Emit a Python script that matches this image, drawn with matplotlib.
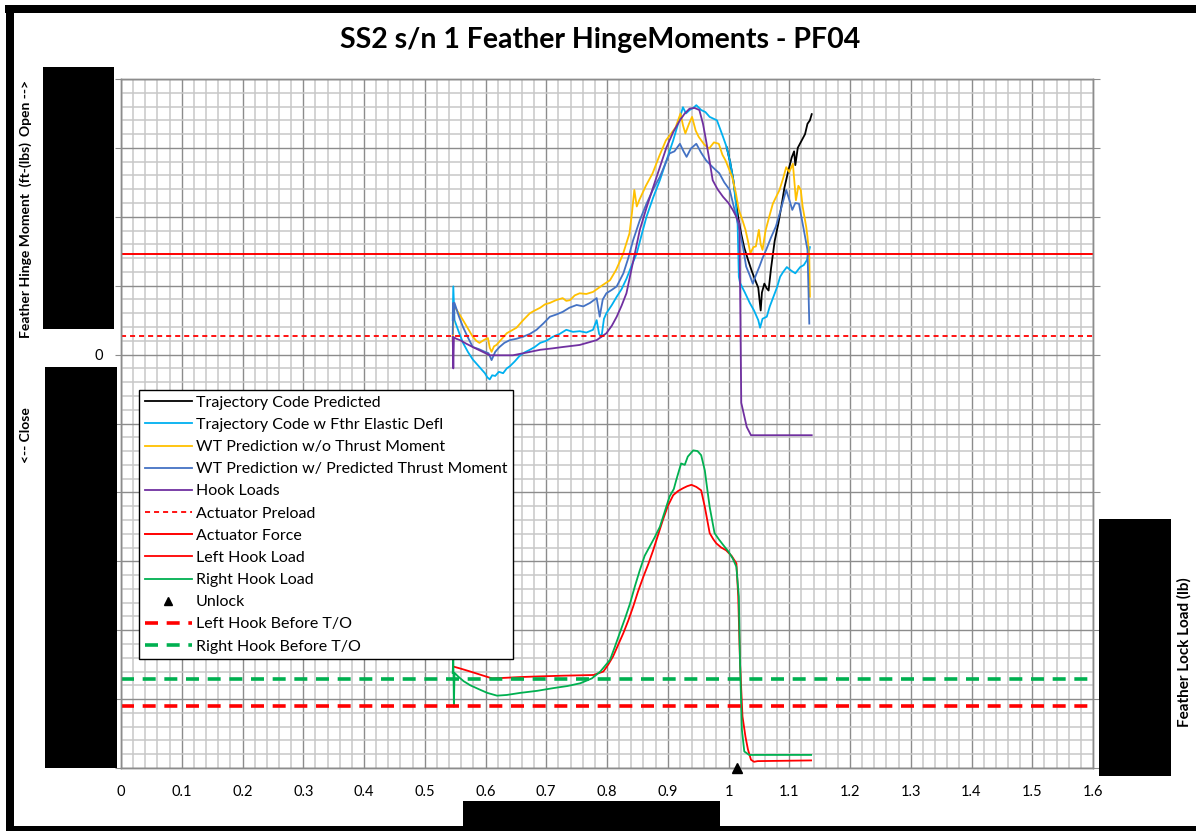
import matplotlib
matplotlib.use('Agg')
import matplotlib.pyplot as plt
from matplotlib.patches import Rectangle
from matplotlib.lines import Line2D
from matplotlib.ticker import MultipleLocator

# ---------------- data ----------------
title = "SS2 s/n 1 Feather HingeMoments - PF04"

traj_x = [0.997, 1.003, 1.008, 1.012, 1.016, 1.021, 1.026, 1.032, 1.038, 1.044, 1.049, 1.051, 1.053,
          1.055, 1.059, 1.063, 1.066, 1.070, 1.076, 1.082, 1.088, 1.092, 1.098, 1.104, 1.108, 1.110,
          1.114, 1.120, 1.126, 1.130, 1.134, 1.137]
traj_y = [3010, 2780, 2530, 2250, 1990, 1750, 1550, 1380, 1220, 1080, 970, 800, 640,
          900, 1030, 960, 930, 1250, 1650, 1900, 2200, 2420, 2650, 2860, 2950, 2750,
          3000, 3100, 3200, 3350, 3400, 3490]

elast_x = [0.546, 0.547, 0.549, 0.556, 0.563, 0.571, 0.579, 0.590, 0.599, 0.603, 0.607, 0.611, 0.616,
           0.622, 0.629, 0.635, 0.640, 0.648, 0.656, 0.664, 0.673, 0.681, 0.690, 0.700, 0.711, 0.722,
           0.733, 0.744, 0.755, 0.766, 0.777, 0.783, 0.787, 0.791, 0.795, 0.799, 0.808, 0.816, 0.824,
           0.832, 0.840, 0.849, 0.857, 0.865, 0.876, 0.887, 0.898, 0.909, 0.917, 0.925, 0.930, 0.936,
           0.942, 0.947, 0.955, 0.962, 0.969, 0.981, 0.991, 0.997, 1.003, 1.008, 1.012, 1.015, 1.017,
           1.019, 1.027, 1.035, 1.042, 1.049, 1.052, 1.056, 1.063, 1.068, 1.074, 1.080, 1.085, 1.090,
           1.096, 1.103, 1.110, 1.118, 1.124, 1.129, 1.134]
elast_y = [500, 990, 500, 330, 170, 40, -70, -180, -270, -330, -360, -300, -310,
           -250, -270, -200, -170, -100, -20, 30, 70, 110, 170, 200, 260, 300,
           360, 330, 340, 320, 360, 500, 300, 260, 520, 600, 720, 840, 950,
           1100, 1280, 1470, 1740, 2000, 2280, 2530, 2820, 3110, 3350, 3590, 3500, 3550,
           3580, 3620, 3550, 3520, 3450, 3400, 3160, 3010, 2780, 2530, 2200, 1900, 1130,
           1040, 900, 750, 640, 500, 390, 520, 550, 700, 840, 980, 1130, 1200,
           1270, 1220, 1180, 1270, 1300, 1370, 1560]

wt_x = [0.546, 0.548, 0.549, 0.556, 0.563, 0.571, 0.579, 0.585, 0.590, 0.597, 0.604, 0.607, 0.610,
        0.614, 0.618, 0.626, 0.635, 0.643, 0.651, 0.662, 0.673, 0.681, 0.690, 0.698, 0.706, 0.716,
        0.727, 0.733, 0.739, 0.747, 0.755, 0.766, 0.777, 0.785, 0.793, 0.805, 0.815, 0.826, 0.837,
        0.841, 0.845, 0.849, 0.853, 0.864, 0.875, 0.886, 0.897, 0.905, 0.913, 0.921, 0.925, 0.929,
        0.935, 0.940, 0.946, 0.951, 0.960, 0.968, 0.976, 0.984, 0.990, 0.995, 1.006, 1.012, 1.017,
        1.023, 1.028, 1.032, 1.036, 1.041, 1.045, 1.050, 1.053, 1.056, 1.061, 1.067, 1.073, 1.079,
        1.084, 1.090, 1.095, 1.100, 1.106, 1.111, 1.115, 1.119, 1.122, 1.125, 1.128, 1.130, 1.133, 1.134]
wt_y = [200, 700, 700, 600, 500, 380, 260, 200, 170, 210, 240, 100, 40,
        120, 140, 220, 310, 350, 390, 500, 600, 640, 680, 730, 750, 790,
        820, 780, 790, 860, 890, 880, 910, 960, 1010, 1080, 1230, 1450, 1760,
        2050, 2390, 2150, 2240, 2450, 2630, 2880, 3110, 3200, 3300, 3500, 3330, 3210,
        3350, 3450, 3250, 3160, 3050, 2990, 3080, 3060, 2900, 2820, 2580, 2350, 2100,
        1950, 1810, 1650, 1470, 1560, 1570, 1810, 1600, 1520, 1800, 2000, 2190, 2300,
        2390, 2560, 2720, 2650, 2770, 2240, 2450, 2390, 2150, 2000, 1850, 1710, 1420, 840]

wtt_x = [0.546, 0.547, 0.548, 0.549, 0.556, 0.563, 0.571, 0.579, 0.589, 0.599, 0.605, 0.610, 0.616,
         0.623, 0.631, 0.640, 0.651, 0.662, 0.673, 0.684, 0.695, 0.706, 0.716, 0.727, 0.738, 0.750,
         0.761, 0.772, 0.783, 0.788, 0.793, 0.799, 0.808, 0.816, 0.827, 0.835, 0.843, 0.854, 0.865,
         0.876, 0.887, 0.895, 0.903, 0.911, 0.920, 0.926, 0.931, 0.938, 0.947, 0.955, 0.963, 0.974,
         0.985, 0.993, 1.002, 1.010, 1.018, 1.024, 1.029, 1.035, 1.040, 1.045, 1.051, 1.056, 1.062,
         1.070, 1.078, 1.086, 1.095, 1.100, 1.105, 1.110, 1.116, 1.121, 1.125, 1.130, 1.133]
wtt_y = [300, 750, 500, 750, 560, 400, 250, 110, 80, 40, 20, -80, 40,
         110, 170, 210, 230, 260, 300, 360, 450, 550, 580, 620, 680, 720,
         700, 750, 820, 550, 800, 890, 940, 990, 1180, 1400, 1660, 1950, 2190,
         2400, 2580, 2750, 2920, 2950, 3060, 2950, 2870, 2990, 3060, 2930, 2820, 2720,
         2630, 2500, 2390, 2100, 1810, 1550, 1280, 1150, 1030, 1150, 1280, 1400, 1520,
         1700, 1860, 2100, 2390, 2250, 2100, 2200, 2190, 1950, 1760, 1520, 450]

hook_x = [0.546, 0.547, 0.548, 0.552, 0.558, 0.568, 0.579, 0.593, 0.607, 0.625, 0.645, 0.668, 0.690,
          0.710, 0.727, 0.755, 0.783, 0.799, 0.808, 0.816, 0.824, 0.832, 0.843, 0.854, 0.865, 0.876,
          0.887, 0.898, 0.909, 0.920, 0.928, 0.936, 0.944, 0.952, 0.958, 0.963, 0.969, 0.974, 0.982,
          0.991, 1.000, 1.007, 1.013, 1.018, 1.021, 1.030, 1.037, 1.137]
hook_y = [260, -200, 250, 230, 210, 160, 110, 50, -10, -10, -10, 30, 70,
          90, 110, 140, 210, 310, 420, 550, 710, 890, 1350, 1810, 2130, 2430,
          2720, 3010, 3230, 3400, 3500, 3570, 3580, 3550, 3350, 3110, 2800, 2530, 2400,
          2290, 2200, 2100, 2000, 1900, -700, -1050, -1170, -1170]

actuator_preload = 270    # ft-lbs
actuator_force = 1460     # ft-lbs

# Feather lock loads (right axis, lb)
left_x = [0.548, 0.560, 0.575, 0.593, 0.611, 0.635, 0.657, 0.690, 0.728, 0.755, 0.778, 0.794, 0.802,
          0.810, 0.818, 0.827, 0.835, 0.843, 0.851, 0.860, 0.868, 0.876, 0.884, 0.892, 0.900, 0.909,
          0.917, 0.925, 0.932, 0.939, 0.947, 0.955, 0.961, 0.965, 0.969, 0.975, 0.980, 0.988, 0.996,
          1.005, 1.013, 1.016, 1.019, 1.023, 1.028, 1.032, 1.037, 1.042, 1.048, 1.136]
left_y = [1470, 1440, 1400, 1350, 1300, 1310, 1320, 1330, 1340, 1345, 1350, 1400, 1500,
          1620, 1780, 1960, 2140, 2340, 2560, 2780, 2960, 3160, 3380, 3600, 3800, 3960,
          4020, 4060, 4090, 4110, 4080, 4030, 3790, 3600, 3410, 3320, 3260, 3200, 3160,
          3080, 2970, 2490, 1520, 750, 450, 270, 120, 90, 100, 110]

right_x = [0.546, 0.547, 0.548, 0.549, 0.556, 0.564, 0.575, 0.590, 0.603, 0.619, 0.635, 0.657, 0.685,
           0.712, 0.735, 0.756, 0.775, 0.789, 0.805, 0.813, 0.821, 0.830, 0.838, 0.846, 0.854, 0.862,
           0.870, 0.878, 0.887, 0.895, 0.903, 0.910, 0.914, 0.918, 0.922, 0.928, 0.933, 0.942, 0.949,
           0.955, 0.961, 0.965, 0.969, 0.977, 0.984, 0.991, 1.000, 1.007, 1.013, 1.017, 1.019, 1.022,
           1.026, 1.034, 1.136]
right_y = [1380, 1620, 890, 1380, 1320, 1260, 1200, 1140, 1090, 1050, 1060, 1090, 1120,
           1160, 1190, 1230, 1300, 1400, 1570, 1760, 1960, 2180, 2390, 2640, 2870, 3080,
           3210, 3340, 3500, 3720, 3940, 4050, 4180, 4300, 4420, 4400, 4520, 4610, 4600,
           4540, 4320, 4050, 3790, 3410, 3320, 3240, 3140, 3040, 2920, 2490, 1520, 560,
           240, 190, 190]

left_hook_before_to = 900    # lb
right_hook_before_to = 1290  # lb
unlock_x = [1.014]
unlock_y = [0]

xticks = [0, 0.1, 0.2, 0.3, 0.4, 0.5, 0.6, 0.7, 0.8, 0.9, 1, 1.1, 1.2, 1.3, 1.4, 1.5, 1.6]
xtick_labels = ["0", "0.1", "0.2", "0.3", "0.4", "0.5", "0.6", "0.7", "0.8", "0.9", "1",
                "1.1", "1.2", "1.3", "1.4", "1.5", "1.6"]

# ---------------- style ----------------
C_BLACK = "#000000"
C_CYAN = "#00B0F0"
C_YELLOW = "#FFC000"
C_BLUE = "#4472C4"
C_PURPLE = "#7030A0"
C_RED = "#FF0000"
C_GREEN = "#00B050"

plt.rcParams['font.family'] = ['Lato', 'DejaVu Sans']

W, H = 1196, 831
fig = plt.figure(figsize=(W / 100, H / 100), dpi=100)


def fx(px):
    return px / W


def fy(py):
    return 1 - py / H


ax = fig.add_axes([fx(121), fy(768), (1093 - 121) / W, (768 - 79) / H])
ax.set_xlim(0, 1.6)
ax.set_ylim(-6000, 4000)
ax.set_xticks(xticks)
ax.set_xticklabels(xtick_labels, fontsize=10.5)
ax.xaxis.set_minor_locator(MultipleLocator(0.02))
ax.yaxis.set_major_locator(MultipleLocator(1000))
ax.yaxis.set_minor_locator(MultipleLocator(200))
ax.set_yticks(list(range(-6000, 4001, 1000)))
ax.set_yticklabels(["0" if v == 0 else "" for v in range(-6000, 4001, 1000)], fontsize=10.5)
ax.grid(which='major', color='#8c8c8c', lw=1.0)
ax.grid(which='minor', color='#c8c8c8', lw=1.1)
ax.set_axisbelow(True)
ax.tick_params(axis='x', which='both', length=0, pad=12)
ax.tick_params(axis='y', which='major', length=4, color='#8c8c8c', pad=9)
ax.tick_params(axis='y', which='minor', length=0)
for s in ax.spines.values():
    s.set_color('#8c8c8c')
    s.set_linewidth(1.0)

lw = 1.3
ax.plot(traj_x, traj_y, color=C_BLACK, lw=lw, label="Trajectory Code Predicted")
ax.plot(elast_x, elast_y, color=C_CYAN, lw=lw, label="Trajectory Code w Fthr Elastic Defl")
ax.plot(wt_x, wt_y, color=C_YELLOW, lw=lw, label="WT Prediction w/o Thrust Moment")
ax.plot(wtt_x, wtt_y, color=C_BLUE, lw=lw, label="WT Prediction w/ Predicted Thrust Moment")
ax.plot(hook_x, hook_y, color=C_PURPLE, lw=lw, label="Hook Loads")
ax.axhline(actuator_preload, color=C_RED, lw=1.3, ls=(0, (2.8, 2.2)), label="Actuator Preload")
ax.axhline(actuator_force, color=C_RED, lw=1.4, label="Actuator Force")

ax2 = ax.twinx()
ax2.set_ylim(0, 10000)
ax2.yaxis.set_major_locator(MultipleLocator(1000))
ax2.tick_params(axis='y', which='major', length=5, color='#8c8c8c', labelright=False)
for s in ax2.spines.values():
    s.set_color('#8c8c8c')
    s.set_linewidth(1.0)
ax2.plot(left_x, left_y, color=C_RED, lw=lw, label="Left Hook Load")
ax2.plot(right_x, right_y, color=C_GREEN, lw=lw, label="Right Hook Load")
ax2.plot(unlock_x, unlock_y, ls='none', marker='^', color='black', ms=7, clip_on=False,
         label="Unlock", zorder=5)
ax2.axhline(left_hook_before_to, color=C_RED, lw=2.6, ls=(0, (3.6, 2.4)), label="Left Hook Before T/O")
ax2.axhline(right_hook_before_to, color=C_GREEN, lw=2.6, ls=(0, (3.6, 2.4)), label="Right Hook Before T/O")

h1, l1 = ax.get_legend_handles_labels()
h2, l2 = ax2.get_legend_handles_labels()
handles = h1 + h2
labels = l1 + l2
handles[9] = Line2D([], [], ls='none', marker='^', color='black', ms=6)
leg = fig.legend(handles, labels, loc='upper left', bbox_to_anchor=(fx(139), fy(390)),
                 bbox_transform=fig.transFigure, fontsize=11.5, frameon=True, fancybox=False,
                 borderaxespad=0, borderpad=0.35, labelspacing=0.5, handlelength=2.95,
                 handletextpad=0.25, framealpha=1)
leg.get_frame().set_edgecolor('black')
leg.get_frame().set_linewidth(1.0)

# titles and axis labels
fig.text(fx(600), fy(40), title, ha='center', va='center', fontsize=20.5, fontweight='bold')
fig.text(fx(26), fy(80), "Open -->", rotation=90, ha='center', va='top', fontsize=10, fontweight='bold')
fig.text(fx(26), fy(142), "Feather Hinge Moment  (ft-(lbs)", rotation=90, ha='center', va='top',
         fontsize=10, fontweight='bold')
fig.text(fx(26), fy(407), "<-- Close", rotation=90, ha='center', va='top', fontsize=10, fontweight='bold')
fig.text(fx(1184), fy(652), "Feather Lock Load (lb)", rotation=90, ha='center', va='center',
         fontsize=11, fontweight='bold')

# redaction boxes and frame
boxes = [(43, 67, 114, 329), (45, 367, 117, 768), (1099, 519, 1171, 776), (463, 801, 720, 826),
         (5, 5, 1196, 13), (6, 5, 14, 831), (6, 826, 1196, 831)]
for (x0, y0, x1, y1) in boxes:
    fig.patches.append(Rectangle((fx(x0), fy(y1)), (x1 - x0) / W, (y1 - y0) / H,
                                 transform=fig.transFigure, facecolor='black', edgecolor='none',
                                 zorder=20))

fig.savefig("out.png", dpi=100, facecolor='white')
